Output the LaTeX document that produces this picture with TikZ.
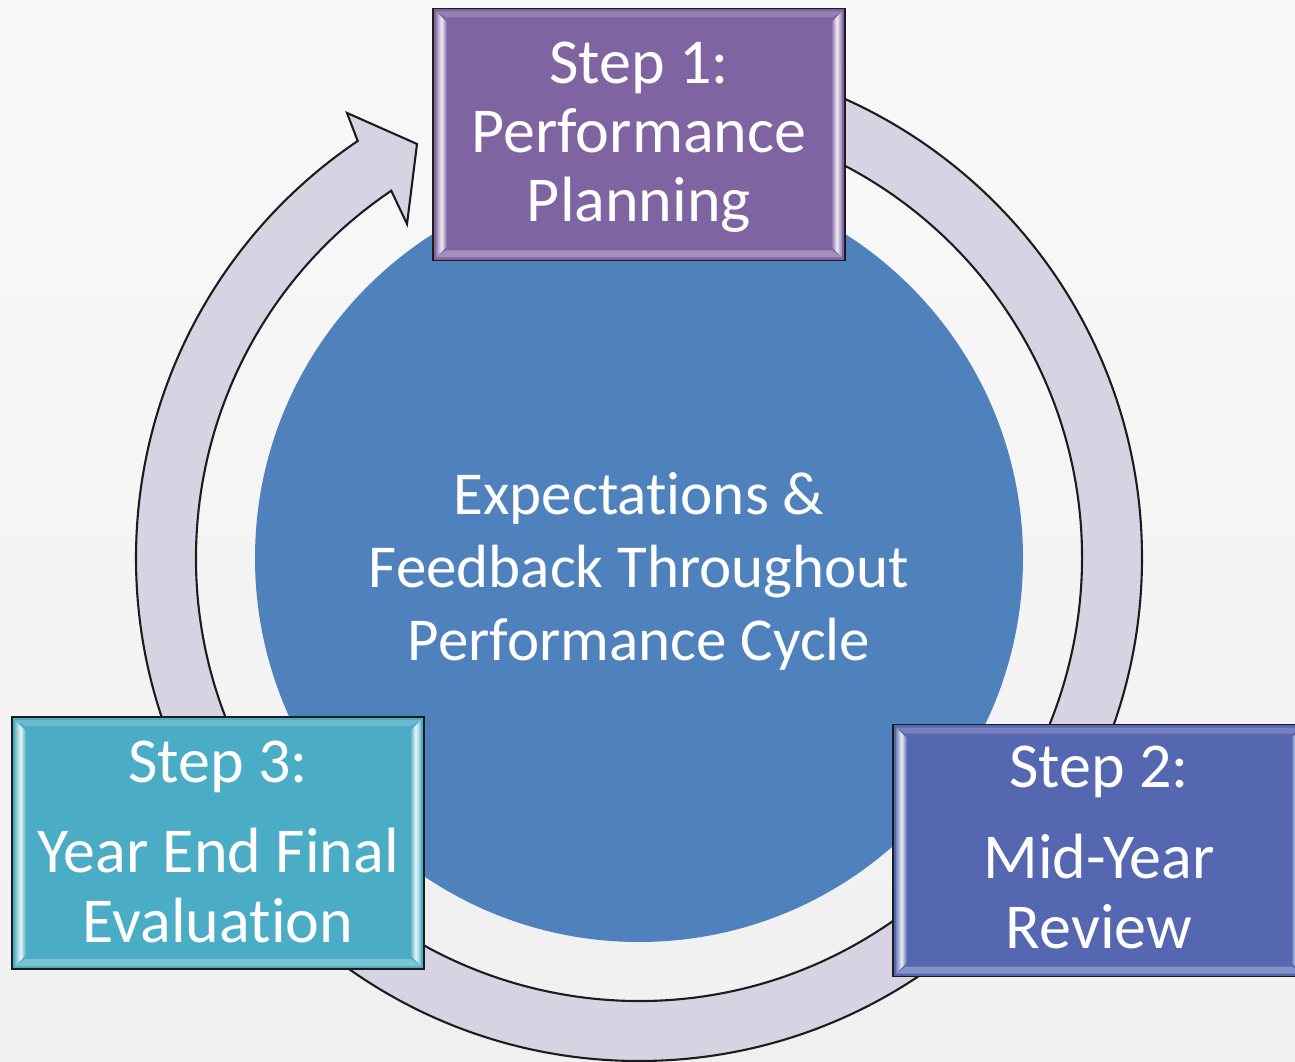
\documentclass[tikz,border=0pt]{standalone}
\usepackage{fontspec}
\setmainfont{Carlito}[Ligatures=NoCommon]
\usetikzlibrary{calc}
\definecolor{bgtop}{HTML}{F9F9F9}
\definecolor{bgbot}{HTML}{F0F0F0}
\definecolor{hubblue}{HTML}{4F81BD}
\definecolor{ringfill}{HTML}{D8D3E2}
\definecolor{edgedark}{HTML}{1C1C1C}
\definecolor{planpurple}{HTML}{8064A2}
\definecolor{midblue}{HTML}{5567B1}
\definecolor{endaqua}{HTML}{4BACC6}
\begin{document}
\begin{tikzpicture}[x=1pt,y=1pt,
  stepbox/.style={rectangle, draw=edgedark, line width=1.8pt, fill=#1,
    minimum width=412pt, minimum height=252pt, inner sep=0pt,
    path picture={
      \path (path picture bounding box.south west) coordinate (bl)
            (path picture bounding box.north east) coordinate (tr);
      % top and bottom bevel faces
      \fill[#1!82!white] ($(bl|-tr)+(3,-3)$) -- ($(tr)+(-3,-3)$) -- ($(tr)+(-13,-9)$) -- ($(bl|-tr)+(13,-9)$) -- cycle;
      \fill[#1!72!white] ($(bl)+(3,3)$) -- ($(tr|-bl)+(-3,3)$) -- ($(tr|-bl)+(-13,10)$) -- ($(bl)+(13,10)$) -- cycle;
      % left and right bevel faces
      \shade[left color=#1!80!white, right color=#1, middle color=white!88!#1]
        ($(bl|-tr)+(3,-3)$) -- ($(bl|-tr)+(14,-14)$) -- ($(bl)+(14,14)$) -- ($(bl)+(3,3)$) -- cycle;
      \shade[left color=#1, right color=#1!80!white, middle color=white!88!#1]
        ($(tr)+(-3,-3)$) -- ($(tr)+(-14,-14)$) -- ($(tr|-bl)+(-14,14)$) -- ($(tr|-bl)+(-3,3)$) -- cycle;
    }},
  steptext/.style={text=white, anchor=base, inner sep=0pt, font=\fontsize{64}{70}\selectfont},
  hubtext/.style={text=white, anchor=base, inner sep=0pt, font=\fontsize{61}{73}\selectfont},
  ringarrow/.style={fill=ringfill, draw=edgedark, line width=2.1pt, line join=miter}]

\useasboundingbox (0,0) rectangle (1295,1061);
\clip (0,0) rectangle (1295,1061);

% soft grey backdrop
\shade[top color=bgtop, bottom color=bgbot] (0,0) rectangle (1295,1061);

\coordinate (c) at (639,503);

% central disc
\node[circle, fill=hubblue, minimum size=768pt, inner sep=0pt] (hub) at (c) {};

% curved cycle arrow running clockwise around the disc
\draw[ringarrow]
  ($(c)+(90:503)$) arc[start angle=90, end angle=-236, radius=503]
  -- ($(c)+(123.27:532.3)$) coordinate (barbout)
  -- ($(c)+(118.2:469.8)$) coordinate (tip)
  -- ($(c)+(124.78:406.7)$) coordinate (barbin)
  -- ($(c)+(124:443)$) arc[start angle=-236, end angle=90, radius=443]
  -- cycle;

% step boxes
\node[stepbox=planpurple] (step1) at (639,926.5) {};
\node[stepbox=midblue]    (step2) at (1099,210.5) {};
\node[stepbox=endaqua]    (step3) at (218,218) {};

% centre text
\node[hubtext] (hub1) at (639,546) {Expectations \&};
\node[hubtext] (hub2) at (639,473) {Feedback Throughout};
\node[hubtext] (hub3) at (639,400) {Performance Cycle};

% box labels
\node[steptext] (s1a) at (639,977) {Step 1:};
\node[steptext] (s1b) at (639,908) {Performance};
\node[steptext] (s1c) at (639,839) {Planning};

\node[steptext] (s2a) at (1099,274) {Step 2:};
\node[steptext] (s2b) at (1099,183) {Mid-Year};
\node[steptext] (s2c) at (1099,113) {Review};

\node[steptext] (s3a) at (218,279) {Step 3:};
\node[steptext] (s3b) at (218,189) {Year End Final};
\node[steptext] (s3c) at (218,119) {Evaluation};
\end{tikzpicture}
\end{document}
